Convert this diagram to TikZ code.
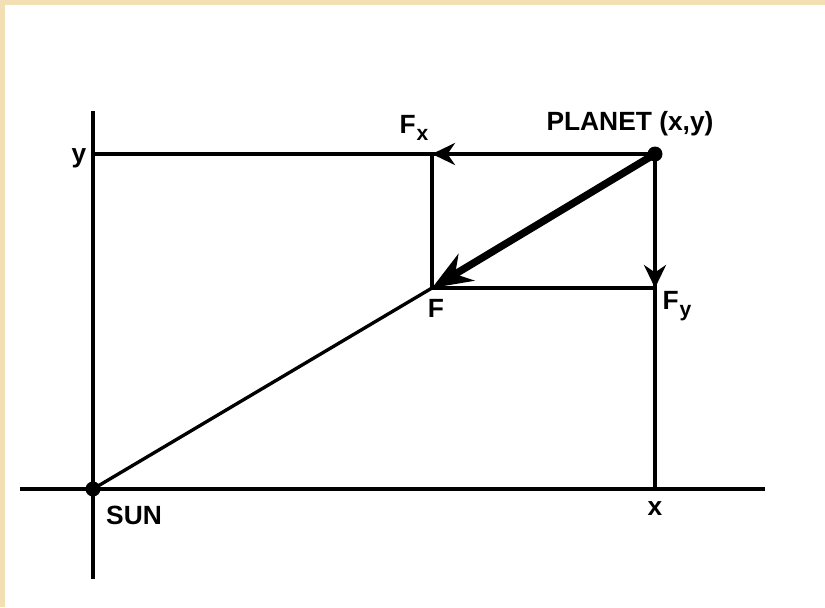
\documentclass[tikz,border=0pt]{standalone}
\usepackage{fontspec}
\setmainfont{Liberation Sans}
\usetikzlibrary{arrows.meta,positioning}
\definecolor{framebeige}{HTML}{F2DFB4}
\newcommand{\lowsub}[1]{\kern0.5pt\raisebox{-0.55ex}{\fontsize{12}{14}\selectfont #1}}

\begin{document}
\begin{tikzpicture}[
  orbitaxis/.style={line width=2.2pt},
  orbitline/.style={line width=1.9pt},
  forcearrow/.style={-{Stealth[length=4.6mm,width=4.4mm]},line width=2.1pt},
  netforce/.style={-{Stealth[length=8mm,width=6.2mm]},line width=4.2pt},
  orbitdot/.style={circle,fill=black,inner sep=0pt,minimum size=3mm},
  orbitlabel/.style={font=\fontsize{15}{18}\selectfont\bfseries,inner sep=1pt}
]
  \fill[framebeige] (-1.86,-2.36) rectangle (14.64,9.78);
  \fill[white] (-1.76,-2.36) rectangle (14.64,9.68);
  \useasboundingbox (-1.86,-2.36) rectangle (14.64,9.78);

  \node[orbitdot] (sun) at (0,0) {};
  \node[orbitdot] (planet) at (11.24,6.70) {};
  \coordinate (force) at (6.78,4.02);
  \coordinate (fxtip) at (6.78,6.70);
  \coordinate (fytip) at (11.24,4.02);
  \coordinate (xfoot) at (11.24,0);
  \coordinate (ytop) at (0,6.70);
  \coordinate (axisleft) at (-1.46,0);
  \coordinate (axisright) at (13.44,0);
  \coordinate (axistop) at (0,7.56);
  \coordinate (axisbottom) at (0,-1.80);

  \draw[orbitaxis] (axisleft) -- (axisright);
  \draw[orbitaxis] (axisbottom) -- (axistop);
  \draw[orbitaxis] (ytop) -- (planet.center);
  \draw[forcearrow] (planet.center) -- (fxtip);
  \draw[orbitline] (fxtip) -- (force) -- (fytip);
  \draw[orbitline] (planet.center) -- (xfoot);
  \draw[forcearrow] (planet.center) -- (fytip);
  \draw[orbitline] (sun.center) -- (force);
  \draw[netforce] (planet.center) -- (force);

  \node[orbitlabel] (ylabel) at (-0.28,6.62) {y};
  \node[orbitlabel] (fxlabel) at (6.42,7.22) {F\lowsub{x}};
  \node[orbitlabel] (planetlabel) at (10.74,7.30) {PLANET (x,y)};
  \node[orbitlabel] (flabel) at (6.86,3.62) {F};
  \node[orbitlabel] (fylabel) at (11.68,3.66) {F\lowsub{y}};
  \node[orbitlabel] (sunlabel) at (0.82,-0.52) {SUN};
  \node[orbitlabel] (xlabel) at (11.24,-0.40) {x};
\end{tikzpicture}
\end{document}
